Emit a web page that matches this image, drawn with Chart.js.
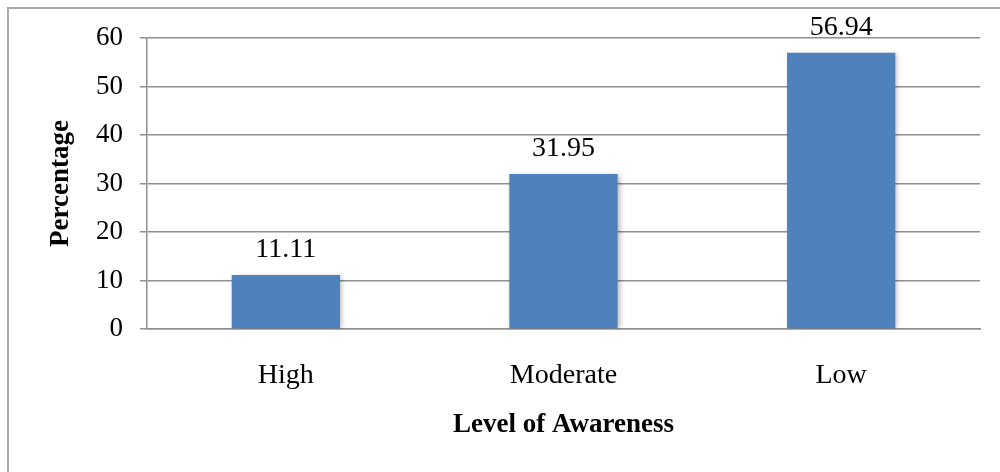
<!DOCTYPE html>
<html>
<head>
<meta charset="utf-8">
<script src="https://cdn.jsdelivr.net/npm/chart.js@4.4.1/dist/chart.umd.min.js"></script>
<style>
  html, body { margin: 0; padding: 0; background: #fff; }
  #wrap { position: relative; width: 1000px; height: 472px; }
  #frame {
    position: absolute; left: 7px; top: 7px; right: 0; bottom: 0;
    border-left: 2px solid #a8a8a8; border-top: 2px solid #a8a8a8;
    pointer-events: none;
  }
  canvas { position: absolute; left: 0; top: 0; }
</style>
</head>
<body>
<div id="wrap">
  <canvas id="bar-chart" width="1000" height="472"></canvas>
  <div id="frame"></div>
</div>
<script>
const categories = ['High', 'Moderate', 'Low'];
const percentages = [11.11, 31.95, 56.94];
const yTicks = [0, 10, 20, 30, 40, 50, 60];

const FONT = "'Liberation Serif', 'Times New Roman', serif";
const GRID = '#8f8f8f';

// light drop shadow behind the bars
const barShadow = {
  id: 'barShadow',
  beforeDatasetsDraw(chart) {
    const ctx = chart.ctx;
    ctx.save();
    ctx.shadowColor = 'rgba(0,0,0,0.28)';
    ctx.shadowBlur = 5;
    ctx.shadowOffsetX = 2;
    ctx.shadowOffsetY = 1;
  },
  afterDatasetsDraw(chart) {
    chart.ctx.restore();
  }
};

// value written above each bar
const valueLabels = {
  id: 'valueLabels',
  afterDatasetsDraw(chart) {
    const ctx = chart.ctx;
    const meta = chart.getDatasetMeta(0);
    ctx.save();
    ctx.shadowColor = 'transparent';
    ctx.font = '28px ' + FONT;
    ctx.fillStyle = '#000';
    ctx.textAlign = 'center';
    ctx.textBaseline = 'middle';
    meta.data.forEach((bar, i) => {
      ctx.fillText(percentages[i].toFixed(2), bar.x, bar.y - 25);
    });
    ctx.restore();
  }
};

new Chart(document.getElementById('bar-chart'), {
  type: 'bar',
  data: {
    labels: categories,
    datasets: [{
      data: percentages,
      backgroundColor: '#4f81bd',
      borderWidth: 0,
      categoryPercentage: 1,
      barPercentage: 0.39
    }]
  },
  options: {
    responsive: false,
    animation: false,
    events: [],
    layout: { padding: { left: 0, top: 38, right: 20, bottom: 0 } },
    plugins: {
      legend: { display: false },
      tooltip: { enabled: false }
    },
    scales: {
      x: {
        afterFit(scale) { scale.height = 143; },
        grid: { display: false, drawTicks: false },
        border: { display: true, color: GRID, width: 1.5 },
        ticks: {
          padding: 30,
          color: '#000',
          font: { family: FONT, size: 28 }
        },
        title: {
          display: true,
          text: 'Level of Awareness',
          color: '#000',
          font: { family: FONT, size: 27, weight: 'bold' },
          padding: { top: 31, bottom: 31 }
        }
      },
      y: {
        min: 0,
        max: 60,
        afterFit(scale) { scale.width = 147; },
        afterBuildTicks(scale) {
          scale.ticks = yTicks.map(v => ({ value: v }));
        },
        grid: { color: GRID, lineWidth: 1.5, tickLength: 7 },
        border: { display: true, color: GRID, width: 1.5 },
        ticks: {
          padding: 17,
          color: '#000',
          font: { family: FONT, size: 27 }
        },
        title: {
          display: true,
          text: 'Percentage',
          color: '#000',
          font: { family: FONT, size: 27, weight: 'bold' },
          padding: { top: 45, bottom: 45 }
        }
      }
    }
  },
  plugins: [barShadow, valueLabels]
});
</script>
</body>
</html>
